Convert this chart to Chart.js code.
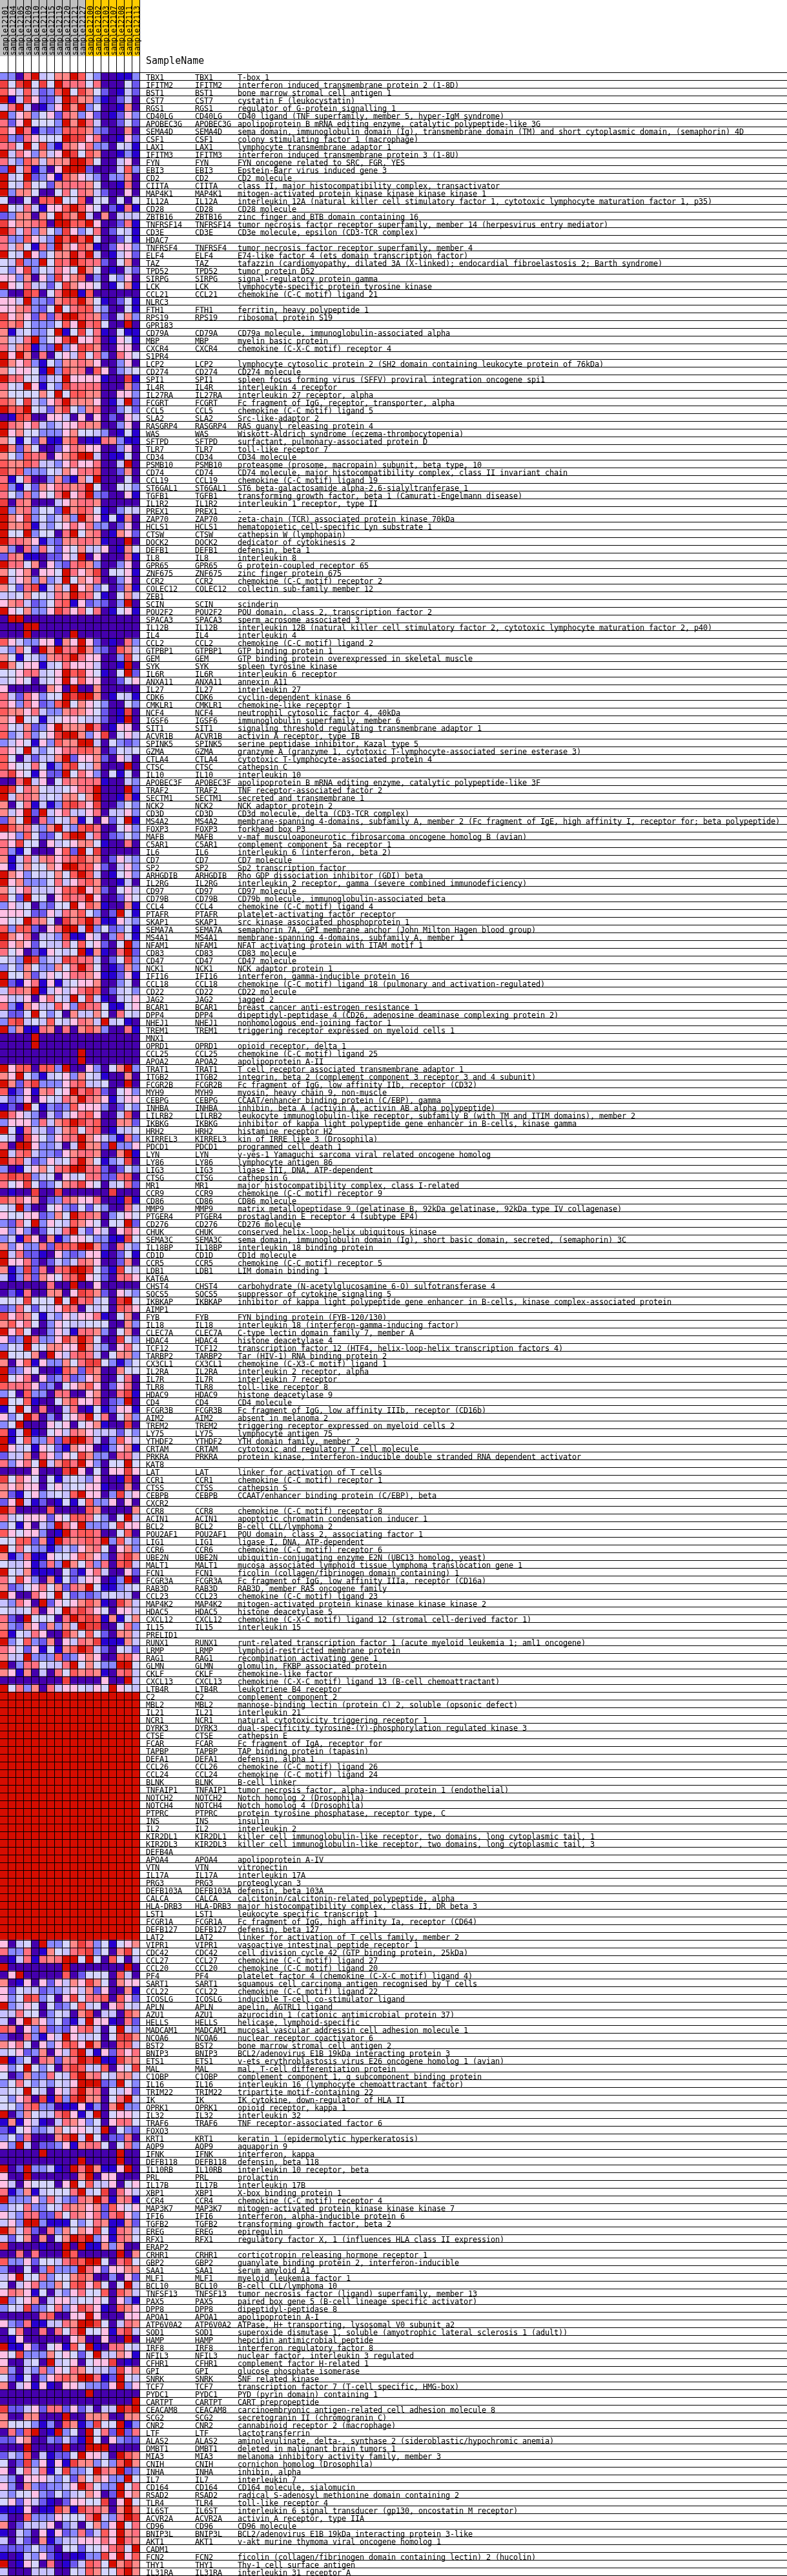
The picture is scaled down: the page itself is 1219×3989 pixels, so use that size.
<!DOCTYPE html>
<html>
<head>
<meta charset="utf-8">
<title>Heat map</title>
<script src="https://cdn.jsdelivr.net/npm/chart.js@4/dist/chart.umd.min.js"></script>
<style>
  html, body { margin: 0; padding: 0; background: #fff; }
  canvas { display: block; }
</style>
</head>
<body>
<canvas id="heatmap" width="1219" height="3989"></canvas>
<script>
const sampleNames = ['sample12101','sample12104','sample12105','sample12109','sample12110','sample12112','sample12115','sample12119','sample12120','sample12121','sample12127','sample12100','sample12102','sample12103','sample12107','sample12108','sample12111','sample12113'];
const sampleClass = [0,0,0,0,0,0,0,0,0,0,0,1,1,1,1,1,1,1];
const classColors = ['#C0C0C0', '#FFCC00'];

// colour ramp, low to high. one hex digit per cell in cellLevels indexes into this
const palette = ['#4500AD','#2700D1','#6B58EF','#8888FF','#C7C1FF','#D5D5FF','#FFC0E5','#FF8989','#FF7080','#FF5A5A','#EF4040','#D60C00'];

const geneNames = [
'TBX1','IFITM2','BST1','CST7','RGS1','CD40LG','APOBEC3G','SEMA4D','CSF1','LAX1','IFITM3','FYN','EBI3','CD2','CIITA','MAP4K1','IL12A','CD28','ZBTB16','TNFRSF14','CD3E','HDAC7','TNFRSF4','ELF4','TAZ','TPD52','SIRPG','LCK','CCL21','NLRC3','FTH1','RPS19','GPR183','CD79A','MBP','CXCR4',
'S1PR4','LCP2','CD274','SPI1','IL4R','IL27RA','FCGRT','CCL5','SLA2','RASGRP4','WAS','SFTPD','TLR7','CD34','PSMB10','CD74','CCL19','ST6GAL1','TGFB1','IL1R2','PREX1','ZAP70','HCLS1','CTSW','DOCK2','DEFB1','IL8','GPR65','ZNF675','CCR2','COLEC12','ZEB1','SCIN','POU2F2','SPACA3','IL12B',
'IL4','CCL2','GTPBP1','GEM','SYK','IL6R','ANXA11','IL27','CDK6','CMKLR1','NCF4','IGSF6','SIT1','ACVR1B','SPINK5','GZMA','CTLA4','CTSC','IL10','APOBEC3F','TRAF2','SECTM1','NCK2','CD3D','MS4A2','FOXP3','MAFB','C5AR1','IL6','CD7','SP2','ARHGDIB','IL2RG','CD97','CD79B','CCL4',
'PTAFR','SKAP1','SEMA7A','MS4A1','NFAM1','CD83','CD47','NCK1','IFI16','CCL18','CD22','JAG2','BCAR1','DPP4','NHEJ1','TREM1','MNX1','OPRD1','CCL25','APOA2','TRAT1','ITGB2','FCGR2B','MYH9','CEBPG','INHBA','LILRB2','IKBKG','HRH2','KIRREL3','PDCD1','LYN','LY86','LIG3','CTSG','MR1',
'CCR9','CD86','MMP9','PTGER4','CD276','CHUK','SEMA3C','IL18BP','CD1D','CCR5','LDB1','KAT6A','CHST4','SOCS5','IKBKAP','AIMP1','FYB','IL18','CLEC7A','HDAC4','TCF12','TARBP2','CX3CL1','IL2RA','IL7R','TLR8','HDAC9','CD4','FCGR3B','AIM2','TREM2','LY75','YTHDF2','CRTAM','PRKRA','KAT8',
'LAT','CCR1','CTSS','CEBPB','CXCR2','CCR8','ACIN1','BCL2','POU2AF1','LIG1','CCR6','UBE2N','MALT1','FCN1','FCGR3A','RAB3D','CCL23','MAP4K2','HDAC5','CXCL12','IL15','PRELID1','RUNX1','LRMP','RAG1','GLMN','CKLF','CXCL13','LTB4R','C2','MBL2','IL21','NCR1','DYRK3','CTSE','FCAR',
'TAPBP','DEFA1','CCL26','CCL24','BLNK','TNFAIP1','NOTCH2','NOTCH4','PTPRC','INS','IL2','KIR2DL1','KIR2DL3','DEFB4A','APOA4','VTN','IL17A','PRG3','DEFB103A','CALCA','HLA-DRB3','LST1','FCGR1A','DEFB127','LAT2','VIPR1','CDC42','CCL27','CCL20','PF4','SART1','CCL22','ICOSLG','APLN','AZU1','HELLS',
'MADCAM1','NCOA6','BST2','BNIP3','ETS1','MAL','C1QBP','IL16','TRIM22','IK','OPRK1','IL32','TRAF6','FOXO3','KRT1','AQP9','IFNK','DEFB118','IL10RB','PRL','IL17B','XBP1','CCR4','MAP3K7','IFI6','TGFB2','EREG','RFX1','ERAP2','CRHR1','GBP2','SAA1','MLF1','BCL10','TNFSF13','PAX5',
'DPP8','APOA1','ATP6V0A2','SOD1','HAMP','IRF8','NFIL3','CFHR1','GPI','SNRK','TCF7','PYDC1','CARTPT','CEACAM8','SCG2','CNR2','LTF','ALAS2','DMBT1','MIA3','CNIH','INHA','IL7','CD164','RSAD2','TLR4','IL6ST','ACVR2A','CD96','BNIP3L','AKT1','CADM1','FCN2','THY1','IL31RA'
];

const geneDescriptions = [
'T-box 1','interferon induced transmembrane protein 2 (1-8D)','bone marrow stromal cell antigen 1','cystatin F (leukocystatin)','regulator of G-protein signalling 1','CD40 ligand (TNF superfamily, member 5, hyper-IgM syndrome)','apolipoprotein B mRNA editing enzyme, catalytic polypeptide-like 3G','sema domain, immunoglobulin domain (Ig), transmembrane domain (TM) and short cytoplasmic domain, (semaphorin) 4D','colony stimulating factor 1 (macrophage)','lymphocyte transmembrane adaptor 1','interferon induced transmembrane protein 3 (1-8U)','FYN oncogene related to SRC, FGR, YES','Epstein-Barr virus induced gene 3','CD2 molecule','class II, major histocompatibility complex, transactivator','mitogen-activated protein kinase kinase kinase kinase 1','interleukin 12A (natural killer cell stimulatory factor 1, cytotoxic lymphocyte maturation factor 1, p35)','CD28 molecule','zinc finger and BTB domain containing 16','tumor necrosis factor receptor superfamily, member 14 (herpesvirus entry mediator)','CD3e molecule, epsilon (CD3-TCR complex)','','tumor necrosis factor receptor superfamily, member 4','E74-like factor 4 (ets domain transcription factor)','tafazzin (cardiomyopathy, dilated 3A (X-linked); endocardial fibroelastosis 2; Barth syndrome)','tumor protein D52','signal-regulatory protein gamma','lymphocyte-specific protein tyrosine kinase','chemokine (C-C motif) ligand 21','','ferritin, heavy polypeptide 1','ribosomal protein S19','','CD79a molecule, immunoglobulin-associated alpha','myelin basic protein','chemokine (C-X-C motif) receptor 4',
'','lymphocyte cytosolic protein 2 (SH2 domain containing leukocyte protein of 76kDa)','CD274 molecule','spleen focus forming virus (SFFV) proviral integration oncogene spi1','interleukin 4 receptor','interleukin 27 receptor, alpha','Fc fragment of IgG, receptor, transporter, alpha','chemokine (C-C motif) ligand 5','Src-like-adaptor 2','RAS guanyl releasing protein 4','Wiskott-Aldrich syndrome (eczema-thrombocytopenia)','surfactant, pulmonary-associated protein D','toll-like receptor 7','CD34 molecule','proteasome (prosome, macropain) subunit, beta type, 10','CD74 molecule, major histocompatibility complex, class II invariant chain','chemokine (C-C motif) ligand 19','ST6 beta-galactosamide alpha-2,6-sialyltranferase 1','transforming growth factor, beta 1 (Camurati-Engelmann disease)','interleukin 1 receptor, type II','-','zeta-chain (TCR) associated protein kinase 70kDa','hematopoietic cell-specific Lyn substrate 1','cathepsin W (lymphopain)','dedicator of cytokinesis 2','defensin, beta 1','interleukin 8','G protein-coupled receptor 65','zinc finger protein 675','chemokine (C-C motif) receptor 2','collectin sub-family member 12','','scinderin','POU domain, class 2, transcription factor 2','sperm acrosome associated 3','interleukin 12B (natural killer cell stimulatory factor 2, cytotoxic lymphocyte maturation factor 2, p40)',
'interleukin 4','chemokine (C-C motif) ligand 2','GTP binding protein 1','GTP binding protein overexpressed in skeletal muscle','spleen tyrosine kinase','interleukin 6 receptor','annexin A11','interleukin 27','cyclin-dependent kinase 6','chemokine-like receptor 1','neutrophil cytosolic factor 4, 40kDa','immunoglobulin superfamily, member 6','signaling threshold regulating transmembrane adaptor 1','activin A receptor, type IB','serine peptidase inhibitor, Kazal type 5','granzyme A (granzyme 1, cytotoxic T-lymphocyte-associated serine esterase 3)','cytotoxic T-lymphocyte-associated protein 4','cathepsin C','interleukin 10','apolipoprotein B mRNA editing enzyme, catalytic polypeptide-like 3F','TNF receptor-associated factor 2','secreted and transmembrane 1','NCK adaptor protein 2','CD3d molecule, delta (CD3-TCR complex)','membrane-spanning 4-domains, subfamily A, member 2 (Fc fragment of IgE, high affinity I, receptor for; beta polypeptide)','forkhead box P3','v-maf musculoaponeurotic fibrosarcoma oncogene homolog B (avian)','complement component 5a receptor 1','interleukin 6 (interferon, beta 2)','CD7 molecule','Sp2 transcription factor','Rho GDP dissociation inhibitor (GDI) beta','interleukin 2 receptor, gamma (severe combined immunodeficiency)','CD97 molecule','CD79b molecule, immunoglobulin-associated beta','chemokine (C-C motif) ligand 4',
'platelet-activating factor receptor','src kinase associated phosphoprotein 1','semaphorin 7A, GPI membrane anchor (John Milton Hagen blood group)','membrane-spanning 4-domains, subfamily A, member 1','NFAT activating protein with ITAM motif 1','CD83 molecule','CD47 molecule','NCK adaptor protein 1','interferon, gamma-inducible protein 16','chemokine (C-C motif) ligand 18 (pulmonary and activation-regulated)','CD22 molecule','jagged 2','breast cancer anti-estrogen resistance 1','dipeptidyl-peptidase 4 (CD26, adenosine deaminase complexing protein 2)','nonhomologous end-joining factor 1','triggering receptor expressed on myeloid cells 1','','opioid receptor, delta 1','chemokine (C-C motif) ligand 25','apolipoprotein A-II','T cell receptor associated transmembrane adaptor 1','integrin, beta 2 (complement component 3 receptor 3 and 4 subunit)','Fc fragment of IgG, low affinity IIb, receptor (CD32)','myosin, heavy chain 9, non-muscle','CCAAT/enhancer binding protein (C/EBP), gamma','inhibin, beta A (activin A, activin AB alpha polypeptide)','leukocyte immunoglobulin-like receptor, subfamily B (with TM and ITIM domains), member 2','inhibitor of kappa light polypeptide gene enhancer in B-cells, kinase gamma','histamine receptor H2','kin of IRRE like 3 (Drosophila)','programmed cell death 1','v-yes-1 Yamaguchi sarcoma viral related oncogene homolog','lymphocyte antigen 86','ligase III, DNA, ATP-dependent','cathepsin G','major histocompatibility complex, class I-related',
'chemokine (C-C motif) receptor 9','CD86 molecule','matrix metallopeptidase 9 (gelatinase B, 92kDa gelatinase, 92kDa type IV collagenase)','prostaglandin E receptor 4 (subtype EP4)','CD276 molecule','conserved helix-loop-helix ubiquitous kinase','sema domain, immunoglobulin domain (Ig), short basic domain, secreted, (semaphorin) 3C','interleukin 18 binding protein','CD1d molecule','chemokine (C-C motif) receptor 5','LIM domain binding 1','','carbohydrate (N-acetylglucosamine 6-O) sulfotransferase 4','suppressor of cytokine signaling 5','inhibitor of kappa light polypeptide gene enhancer in B-cells, kinase complex-associated protein','','FYN binding protein (FYB-120/130)','interleukin 18 (interferon-gamma-inducing factor)','C-type lectin domain family 7, member A','histone deacetylase 4','transcription factor 12 (HTF4, helix-loop-helix transcription factors 4)','Tar (HIV-1) RNA binding protein 2','chemokine (C-X3-C motif) ligand 1','interleukin 2 receptor, alpha','interleukin 7 receptor','toll-like receptor 8','histone deacetylase 9','CD4 molecule','Fc fragment of IgG, low affinity IIIb, receptor (CD16b)','absent in melanoma 2','triggering receptor expressed on myeloid cells 2','lymphocyte antigen 75','YTH domain family, member 2','cytotoxic and regulatory T cell molecule','protein kinase, interferon-inducible double stranded RNA dependent activator','',
'linker for activation of T cells','chemokine (C-C motif) receptor 1','cathepsin S','CCAAT/enhancer binding protein (C/EBP), beta','','chemokine (C-C motif) receptor 8','apoptotic chromatin condensation inducer 1','B-cell CLL/lymphoma 2','POU domain, class 2, associating factor 1','ligase I, DNA, ATP-dependent','chemokine (C-C motif) receptor 6','ubiquitin-conjugating enzyme E2N (UBC13 homolog, yeast)','mucosa associated lymphoid tissue lymphoma translocation gene 1','ficolin (collagen/fibrinogen domain containing) 1','Fc fragment of IgG, low affinity IIIa, receptor (CD16a)','RAB3D, member RAS oncogene family','chemokine (C-C motif) ligand 23','mitogen-activated protein kinase kinase kinase kinase 2','histone deacetylase 5','chemokine (C-X-C motif) ligand 12 (stromal cell-derived factor 1)','interleukin 15','','runt-related transcription factor 1 (acute myeloid leukemia 1; aml1 oncogene)','lymphoid-restricted membrane protein','recombination activating gene 1','glomulin, FKBP associated protein','chemokine-like factor','chemokine (C-X-C motif) ligand 13 (B-cell chemoattractant)','leukotriene B4 receptor','complement component 2','mannose-binding lectin (protein C) 2, soluble (opsonic defect)','interleukin 21','natural cytotoxicity triggering receptor 1','dual-specificity tyrosine-(Y)-phosphorylation regulated kinase 3','cathepsin E','Fc fragment of IgA, receptor for',
'TAP binding protein (tapasin)','defensin, alpha 1','chemokine (C-C motif) ligand 26','chemokine (C-C motif) ligand 24','B-cell linker','tumor necrosis factor, alpha-induced protein 1 (endothelial)','Notch homolog 2 (Drosophila)','Notch homolog 4 (Drosophila)','protein tyrosine phosphatase, receptor type, C','insulin','interleukin 2','killer cell immunoglobulin-like receptor, two domains, long cytoplasmic tail, 1','killer cell immunoglobulin-like receptor, two domains, long cytoplasmic tail, 3','','apolipoprotein A-IV','vitronectin','interleukin 17A','proteoglycan 3','defensin, beta 103A','calcitonin/calcitonin-related polypeptide, alpha','major histocompatibility complex, class II, DR beta 3','leukocyte specific transcript 1','Fc fragment of IgG, high affinity Ia, receptor (CD64)','defensin, beta 127','linker for activation of T cells family, member 2','vasoactive intestinal peptide receptor 1','cell division cycle 42 (GTP binding protein, 25kDa)','chemokine (C-C motif) ligand 27','chemokine (C-C motif) ligand 20','platelet factor 4 (chemokine (C-X-C motif) ligand 4)','squamous cell carcinoma antigen recognised by T cells','chemokine (C-C motif) ligand 22','inducible T-cell co-stimulator ligand','apelin, AGTRL1 ligand','azurocidin 1 (cationic antimicrobial protein 37)','helicase, lymphoid-specific',
'mucosal vascular addressin cell adhesion molecule 1','nuclear receptor coactivator 6','bone marrow stromal cell antigen 2','BCL2/adenovirus E1B 19kDa interacting protein 3','v-ets erythroblastosis virus E26 oncogene homolog 1 (avian)','mal, T-cell differentiation protein','complement component 1, q subcomponent binding protein','interleukin 16 (lymphocyte chemoattractant factor)','tripartite motif-containing 22','IK cytokine, down-regulator of HLA II','opioid receptor, kappa 1','interleukin 32','TNF receptor-associated factor 6','','keratin 1 (epidermolytic hyperkeratosis)','aquaporin 9','interferon, kappa','defensin, beta 118','interleukin 10 receptor, beta','prolactin','interleukin 17B','X-box binding protein 1','chemokine (C-C motif) receptor 4','mitogen-activated protein kinase kinase kinase 7','interferon, alpha-inducible protein 6','transforming growth factor, beta 2','epiregulin','regulatory factor X, 1 (influences HLA class II expression)','','corticotropin releasing hormone receptor 1','guanylate binding protein 2, interferon-inducible','serum amyloid A1','myeloid leukemia factor 1','B-cell CLL/lymphoma 10','tumor necrosis factor (ligand) superfamily, member 13','paired box gene 5 (B-cell lineage specific activator)',
'dipeptidyl-peptidase 8','apolipoprotein A-I','ATPase, H+ transporting, lysosomal V0 subunit a2','superoxide dismutase 1, soluble (amyotrophic lateral sclerosis 1 (adult))','hepcidin antimicrobial peptide','interferon regulatory factor 8','nuclear factor, interleukin 3 regulated','complement factor H-related 1','glucose phosphate isomerase','SNF related kinase','transcription factor 7 (T-cell specific, HMG-box)','PYD (pyrin domain) containing 1','CART prepropeptide','carcinoembryonic antigen-related cell adhesion molecule 8','secretogranin II (chromogranin C)','cannabinoid receptor 2 (macrophage)','lactotransferrin','aminolevulinate, delta-, synthase 2 (sideroblastic/hypochromic anemia)','deleted in malignant brain tumors 1','melanoma inhibitory activity family, member 3','cornichon homolog (Drosophila)','inhibin, alpha','interleukin 7','CD164 molecule, sialomucin','radical S-adenosyl methionine domain containing 2','toll-like receptor 4','interleukin 6 signal transducer (gp130, oncostatin M receptor)','activin A receptor, type IIA','CD96 molecule','BCL2/adenovirus E1B 19kDa interacting protein 3-like','v-akt murine thymoma viral oncogene homolog 1','','ficolin (collagen/fibrinogen domain containing lectin) 2 (hucolin)','Thy-1 cell surface antigen','interleukin 31 receptor A'
];

// one string per gene, one hex digit per sample
const cellLevels = [
'3308b4577b95300113','a5ab5a5b8885800052','96494239b5a7520142','b14a6224ba77310240','48b40136b7b3500170','b36735628736201263',
'826b5553b7b8400252','96b813239997320070','a3286555baa6800162','885b5a318768330541','b4863746ba59700131','843974777bb9500460',
'2b491306bbb2000493','b45b23619764303370','b54955278887500180','b37750058587420060','5005099b5590550505','b54841669b96502181',
'2377075b97b4070444','a677890bb99b600281','b8483753a635802541','8339643b9b9b500251','8475183b7697102663','b54b63577b8b401462',
'54a33b598b98820570','536a354865b7501042','6637063a6790305360','b6584425a766501571','300a9058bb19000000','664b332799b7510251',
'6678325b5899430051','a6762828bb98720473','9795333596b89500b0','7145335b15a5810511','7448b356ab66801651','8479132b36a9700660',
'b6b708056495830865','b76831537787600360','756651b39780960345','b8855244b6666100a1','854b6153a888800072','7555575b5997700663',
'975a4368b7776014b2','b99b5427a537800352','01a900664060602064','b87684346687700360','b67553336755430151','751527117901187311',
'b72750026876600360','7539880679bb401150','9779844368668004b0','a79333547688900270','815800372174b00050','93152768878b500553',
'85383658b68b320061','a08700046788700000','b3783552b798510354','b76a353473b7615170','b77914356868330260','b55b35508b57801762',
'b887613277887100b0','730838426574460175','2871102264b0600081','b88570632897300360','75670665b867a05561','b4673734b576800360',
'7528a1474b67350271','445755487b98510574','6784235891623203b0','b657336a8685801561','0bb000000000000000','000bb0000000000000',
'000b00000b00000000','9643366176b6201083','43850b7b88b7320974','751543789b866003a5','b756614586664001b0','55688456b9a65105b2',
'45650456b696600256','600000760b00700000','84286355babb701541','86386239b576530053','9776843378765201a0','76b5514566544201b0',
'8547236b777b801660','9348356abb736a0564','3465163977bb405323','865b43568899702545','95042447b266720640','965585139a547000b0',
'8a651622b586305150','008b46058788810043','ba5875445688b000b2','b47874547757b00191','705814139a86a00353','746b2b468446804463',
'275b083547150625b1','b978437b439a800563','663952259bb4802353','86a550645677510080','8315000692b5a00000','7148478689a7702643',
'61475576bb99620463','b763545759b9401563','b67333584689700140','7568444699b6720564','a52b5506988b600265','364503255b69710071',
'666522648795302b51','655b8750a79b811643','93992068bb4b352351','b7680443a116403851','a676254485956205b3','8560216545b17108b2',
'543ba344a9884025a3','3537533758b8501273','b55724656887611261','b21681614566700350','4887b146468a902453','644606854b5a410456',
'8317644963a8851156','4225b5350744750854','39a4549546874b4510','b37118708079730081','0000b0000000000000','0000b0000000000000',
'0000000000b0000000','0000000000b0000000','b6990993b0063057b3','76b531456375410070','b728a33368944500b0','912617856b8a820563',
'4236065487b8761466','120b51323966630253','b86430424689600490','366638479ba8900772','b51844247958901445','540a653688b7643183',
'80bb633404b772b336','b489433267887007b1','b894236458b75134a0','301567589bb8820253','9a9a34506458822890','856a523578a6504582',
'0100a00a000000a000','9786702387668001a1','54b300563252530084','655662375b98703565','3285b36549765055b2','636302548b42640686',
'3419607136653311a5','7363382999bb720843','b48221063236610251','b66820243487600270','713a28089bba521a54','4138276589b6520886',
'000000800b00600000','0218007706a9720643','555a555b5b89450ab5','238525469805450986','a68751436466810570','796850365445550073',
'b69500364188730570','623b8336a7b9500a53','354b557766b7430685','b55570b64898405773','70691633758aa53135','b23650019729700755',
'b56806238236700580','988862305679602680','3509330880067008a1','b559100579668023b0','15b508004801512661','635b8030568b580573',
'35b0006560567100a0','914b10564876444253','b1593382abb8403964','b64516521766013671','2447086365a7330884','83685b47a8b63055b5',
'00006000ab605066a6','a586505145436001a0','767660564556610070','7215634549b6603a46','26b412015159336060','b80000900009700007',
'8456662659985305b4','3516043b86b3335a66','96566301b899800590','5599271b87898b3943','b58533134367850673','7138116556976308a7',
'54461283b7583809a4','b54711105216840062','85a6307152466013b0','72356857287b511345','b600865b5232345440','43860b265679710a74',
'54458065b8a8650664','820b55508b9a917157','7327627374baa00583','91548600a759520774','b35932706487a11174','8652615179ba420542',
'744b33392367600996','b03885448b57533bb5','761704085978710894','00000000a0000600b4','b5837084665465b654',
'bbbbbbbbbbbbbbbbbb','bbbbbbbbbbbbbbbbbb','bbbbbbbbbbbbbbbbbb','bbbbbbbbbbbbbbbbbb','bbbbbbbbbbbbbbbbbb','bbbbbbbbbbbbbbbbbb','bbbbbbbbbbbbbbbbbb',
'bbbbbbbbbbbbbbbbbb','bbbbbbbbbbbbbbbbbb','bbbbbbbbbbbbbbbbbb','bbbbbbbbbbbbbbbbbb','bbbbbbbbbbbbbbbbbb','bbbbbbbbbbbbbbbbbb','bbbbbbbbbbbbbbbbbb','bbbbbbbbbbbbbbbbbb',
'bbbbbbbbbbbbbbbbbb','bbbbbbbbbbbbbbbbbb','bbbbbbbbbbbbbbbbbb','bbbbbbbbbbbbbbbbbb','bbbbbbbbbbbbbbbbbb','bbbbbbbbbbbbbbbbbb','bbbbbbbbbbbbbbbbbb','bbbbbbbbbbbbbbbbbb',
'bbbbbbbbbbbbbbbbbb','bbbbbbbbbbbbbbbbbb','bbbbbbbbbbbbbbbbbb','bbbbbbbbbbbbbbbbbb','bbbbbbbbbbbbbbbbbb','bbbbbbbbbbbbbbbbbb','bbbbbbbbbbbbbbbbbb','bbbbbbbbbbbbbbbbbb','bbbbbbbbbbbbbbbbbb',
'60450b3357a8351567','83380175489a3507a5','01481878bb5b509504','b0000000b0000000b0','06b000009025550940','70160626476a750766',
'625442334647260071','635a93506a58890962','b34650523594506854','44855035407a044097','406b7635214b661082','980638232689405b43',
'20083164b644505aa7','76850636996b700994','4562370649b4162868','b135087278bab11a77','635b53508a9449065a','5027338549b7854774',
'3585343546bbb23b53','455b540648b7805462','53680a193ab77058b4','553893301161307b33','b0375448a614b05665','171641048763506885',
'2156334756654b0532','35280007ab4b502280','63b402236178850583','00000b000000000b00','0000000000b0000b00','b02b33410b8b7116b0',
'600b0000007b066000','640655506b59446056','8137145558b45a0864','b33363843287b81781','345833548776729656','643882285876828a63',
'463bb3111535871172','b74820837576a51874','425707057bab361875','a0000100b0b1173700','00808000b900000b07','933625548a9bb508a5',
'3005039333b8626677','46b558355797003062','5046833759a69505b4','687615043685590974','b35670466455650631',
'354a235836a8610976','00000890066b600066','6328114487bba50487','0580080858b55618a4','0160000006700600b0','b1162056195b108854',
'65a333756525b44761','600450b4560566a010','730438365875443a67','5215036897bb812b54','704616106643326b36','00000000000b000000',
'00000000000000000b','a22462882624044bab','70077000b007770077','755531309713a55b13','0829b01b350b582b28','22670032421b506322',
'000b0000b00bbb0000','2439041225b6640b97','502a36161a773539b7','60584815a335b87b23','4306664352757633b5','6307323346b8533b58',
'435563253457602b67','5626421026655a06b5','1116011a71a88707b7','300933365558b438ba','702444603405736b58','104306162382496b78',
'404207134466686b87','222353205525568a5b','1014362101133a6b69','b0165080124985b7a7','4000444005497559b7'
];

// sanity check, the three gene lists have to line up
const badRows = cellLevels.map((r, i) => r.length === sampleNames.length ? -1 : i).filter(i => i >= 0);
if (cellLevels.length !== geneNames.length || geneDescriptions.length !== geneNames.length || badRows.length) {
  throw new Error('bad data ' + cellLevels.length + ' ' + geneNames.length + ' ' + geneDescriptions.length + ' rows ' + badRows.join(','));
}

const rowHeight = 12;

// header band, grid lines and the three text columns
const tablePlugin = {
  id: 'table',
  beforeDatasetsDraw(chart) {
    const ctx = chart.ctx;
    const x = chart.scales.x;
    ctx.save();
    sampleNames.forEach((name, c) => {
      ctx.fillStyle = classColors[sampleClass[c]];
      ctx.fillRect(x.getPixelForValue(c), 0, x.getPixelForValue(c + 1) - x.getPixelForValue(c), 87);
    });
    ctx.restore();
  },
  afterDatasetsDraw(chart) {
    const ctx = chart.ctx;
    const x = chart.scales.x;
    const y = chart.scales.y;
    const rowTop = i => y.getPixelForValue(i) - rowHeight / 2;
    ctx.save();
    ctx.fillStyle = '#000';
    for (let c = 1; c <= sampleNames.length; c++) {
      ctx.fillRect(x.getPixelForValue(c), 0, 1, chart.height - 1);
    }
    for (let i = 0; i <= geneNames.length; i++) {
      const top = i < geneNames.length ? rowTop(i) : rowTop(i - 1) + rowHeight;
      ctx.fillRect(0, top, chart.width, 1);
    }
    ctx.textBaseline = 'alphabetic';
    ctx.font = '12px "DejaVu Sans Mono"';
    ctx.letterSpacing = '-0.224px'; // reference text sits on a 7px advance
    geneNames.forEach((name, i) => {
      const base = rowTop(i) + rowHeight;
      ctx.fillText(name, 226, base);
      if (geneDescriptions[i]) {
        ctx.fillText(name, 302, base);
        ctx.fillText(geneDescriptions[i], 368, base);
      }
    });
    sampleNames.forEach((name, c) => {
      ctx.save();
      ctx.translate(x.getPixelForValue(c) + 12, 86);
      ctx.rotate(-Math.PI / 2);
      ctx.fillText(name, 0, 0);
      ctx.restore();
    });
    ctx.letterSpacing = '0px';
    ctx.font = '15px "DejaVu Sans Mono"';
    ctx.fillText('SampleName', 226, 99);
    ctx.restore();
  }
};

new Chart(document.getElementById('heatmap'), {
  type: 'bar',
  data: {
    labels: geneNames,
    datasets: sampleNames.map((name, c) => ({
      label: name,
      data: geneNames.map(() => 1),
      backgroundColor: cellLevels.map(row => palette[parseInt(row[c], 16)]),
      borderWidth: 0,
      barPercentage: 1,
      categoryPercentage: 1
    }))
  },
  options: {
    indexAxis: 'y',
    responsive: false,
    animation: false,
    devicePixelRatio: 1,
    events: [],
    layout: { padding: { left: 0, top: 112, right: 1003, bottom: 1 } },
    plugins: { legend: { display: false }, tooltip: { enabled: false } },
    scales: {
      x: { type: 'linear', min: 0, max: sampleNames.length, stacked: true, display: false },
      y: { type: 'category', stacked: true, display: false }
    }
  },
  plugins: [tablePlugin]
});
</script>
</body>
</html>
